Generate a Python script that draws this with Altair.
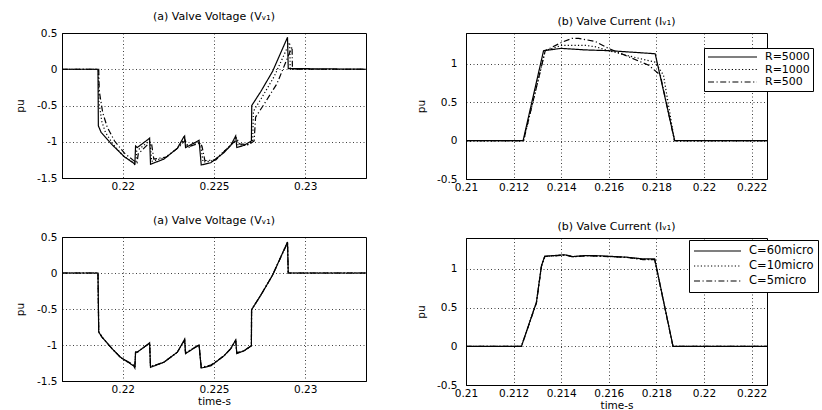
import altair as alt
import pandas as pd

FONT = "DejaVu Sans"

# ---------------- data ----------------
# (a) top-left: valve voltage, R variation
tl_r5000_t = [0.21667, 0.21864, 0.21866, 0.21881, 0.21937, 0.22010, 0.22062, 0.22066, 0.22070, 0.22079,
              0.22143, 0.22147, 0.22152, 0.22225, 0.22299, 0.22335, 0.22339, 0.22344, 0.22418, 0.22430,
              0.22482, 0.22555, 0.22592, 0.22619, 0.22625, 0.22665, 0.22705, 0.22707, 0.22756, 0.22821,
              0.22903, 0.22907, 0.23333]
tl_r5000_v = [0, 0, -0.78, -0.87, -1.03, -1.21, -1.30, -1.32, -1.06, -1.08,
              -0.96, -0.95, -1.31, -1.24, -1.09, -0.93, -0.92, -1.08, -0.98, -1.32,
              -1.29, -1.15, -1.05, -0.92, -1.08, -1.05, -0.99, -0.50, -0.31, -0.03,
              0.44, 0.01, 0]
tl_r1000_t = [0.21667, 0.21866, 0.21869, 0.21885, 0.21905, 0.21945, 0.22000, 0.22055, 0.22072, 0.22076,
              0.22090, 0.22145, 0.22150, 0.22158, 0.22230, 0.22300, 0.22338, 0.22345, 0.22360, 0.22420,
              0.22428, 0.22440, 0.22500, 0.22560, 0.22598, 0.22622, 0.22632, 0.22680, 0.22712, 0.22716,
              0.22760, 0.22830, 0.22915, 0.22918, 0.23333]
tl_r1000_v = [0, 0, -0.45, -0.72, -0.87, -1.03, -1.19, -1.28, -1.30, -1.13,
              -1.10, -0.99, -1.01, -1.27, -1.22, -1.09, -0.96, -1.02, -1.08, -1.00,
              -1.07, -1.28, -1.26, -1.12, -1.03, -0.95, -1.04, -1.05, -0.99, -0.58,
              -0.40, -0.10, 0.37, 0.0, 0]
tl_r500_t = [0.21667, 0.21868, 0.21871, 0.21890, 0.21915, 0.21955, 0.22010, 0.22060, 0.22078, 0.22085,
             0.22100, 0.22148, 0.22158, 0.22170, 0.22240, 0.22305, 0.22342, 0.22352, 0.22370, 0.22422,
             0.22434, 0.22450, 0.22510, 0.22565, 0.22602, 0.22628, 0.22640, 0.22690, 0.22720, 0.22728,
             0.22775, 0.22845, 0.22928, 0.22930, 0.23333]
tl_r500_v = [0, 0, -0.30, -0.60, -0.80, -0.99, -1.16, -1.26, -1.29, -1.16,
             -1.13, -1.01, -1.03, -1.24, -1.21, -1.08, -0.98, -1.04, -1.06, -1.02,
             -1.06, -1.26, -1.25, -1.11, -1.02, -0.97, -1.03, -1.04, -0.99, -0.66,
             -0.48, -0.20, 0.31, 0.0, 0]

# (b) top-right: valve current, R variation
tr_r5000_t = [0.21, 0.21240, 0.21326, 0.21400, 0.21500, 0.21600, 0.21700, 0.21795, 0.21877, 0.22265]
tr_r5000_v = [0, 0, 1.17, 1.20, 1.18, 1.17, 1.15, 1.13, 0, 0]
tr_r1000_t = [0.21, 0.21242, 0.21333, 0.21403, 0.21500, 0.21545, 0.21600, 0.21700, 0.21796, 0.21830, 0.21876, 0.22265]
tr_r1000_v = [0, 0, 1.17, 1.24, 1.24, 1.22, 1.17, 1.09, 1.02, 0.85, 0, 0]
tr_r500_t = [0.21, 0.21242, 0.21333, 0.21403, 0.21445, 0.21473, 0.21543, 0.21599, 0.21684, 0.21768, 0.21817, 0.21876, 0.22265]
tr_r500_v = [0, 0, 1.17, 1.28, 1.33, 1.33, 1.29, 1.20, 1.09, 0.98, 0.85, 0, 0]

# (a) bottom-left: valve voltage, C variation
bl_c60_t = [0.21667, 0.21864, 0.21868, 0.21886, 0.21941, 0.21987, 0.22060, 0.22066, 0.22070, 0.22079,
            0.22143, 0.22147, 0.22152, 0.22225, 0.22299, 0.22335, 0.22339, 0.22344, 0.22418, 0.22430,
            0.22482, 0.22555, 0.22592, 0.22619, 0.22625, 0.22665, 0.22705, 0.22706, 0.22756, 0.22821,
            0.22903, 0.22907, 0.23333]
bl_c60_v = [0, 0, -0.82, -0.89, -1.05, -1.17, -1.29, -1.32, -1.10, -1.10,
            -0.98, -0.97, -1.31, -1.24, -1.10, -0.94, -0.92, -1.12, -1.00, -1.32,
            -1.29, -1.15, -1.05, -0.93, -1.12, -1.08, -1.01, -0.51, -0.31, -0.03,
            0.43, 0, 0]
bl_c10_v = [0, 0, -0.82, -0.89, -1.05, -1.17, -1.29, -1.31, -1.10, -1.10,
            -0.98, -0.97, -1.30, -1.24, -1.10, -0.94, -0.92, -1.11, -1.00, -1.31,
            -1.29, -1.15, -1.05, -0.93, -1.11, -1.08, -1.01, -0.51, -0.31, -0.03,
            0.43, 0, 0]
bl_c5_v = [0, 0, -0.81, -0.89, -1.05, -1.17, -1.28, -1.31, -1.10, -1.10,
           -0.98, -0.97, -1.30, -1.24, -1.10, -0.95, -0.93, -1.11, -1.00, -1.31,
           -1.28, -1.15, -1.05, -0.94, -1.11, -1.08, -1.01, -0.51, -0.31, -0.03,
           0.42, 0, 0]

# (b) bottom-right: valve current, C variation
br_c60_t = [0.21, 0.21233, 0.21296, 0.21317, 0.21331, 0.21415, 0.21450, 0.21506, 0.21562, 0.21674, 0.21744, 0.21793, 0.21870, 0.22265]
br_c60_v = [0, 0, 0.57, 1.04, 1.165, 1.183, 1.16, 1.174, 1.17, 1.152, 1.13, 1.13, 0, 0]
br_c10_v = [0, 0, 0.57, 1.04, 1.16, 1.18, 1.16, 1.17, 1.165, 1.15, 1.125, 1.12, 0, 0]
br_c5_v = [0, 0, 0.56, 1.03, 1.16, 1.18, 1.155, 1.17, 1.165, 1.15, 1.12, 1.12, 0, 0]

r_names = ["R=5000", "R=1000", "R=500"]
c_names = ["C=60micro", "C=10micro", "C=5micro"]
dashes = [[1, 0], [1.2, 2.2], [6, 2.5, 1.2, 2.5]]

volt_xticks = [0.22, 0.225, 0.23]
curr_xticks = [0.21, 0.212, 0.214, 0.216, 0.218, 0.22, 0.222]
volt_yticks = [-1.5, -1, -0.5, 0, 0.5]
curr_yticks = [-0.5, 0, 0.5, 1]


def long_df(series):
    rows = []
    for name, ts, vs in series:
        for i, (t, v) in enumerate(zip(ts, vs)):
            rows.append({"t": t, "v": v, "series": name, "i": i})
    return pd.DataFrame(rows)


def panel(df, title, names, xdom, xticks, ydom, yticks, w, h, xtitle, legend, ylabpad, ytitlepad):
    return alt.Chart(df).mark_line(color="black", strokeWidth=1.2, clip=True).encode(
        x=alt.X("t:Q", scale=alt.Scale(domain=xdom, nice=False, zero=False),
                axis=alt.Axis(values=xticks, format=".3~f", title=xtitle, labelFlush=False,
                              labelOverlap=False, labelPadding=3, titlePadding=2)),
        y=alt.Y("v:Q", scale=alt.Scale(domain=ydom, nice=False, zero=False),
                axis=alt.Axis(values=yticks, format="~g", title="pu", labelFlush=False,
                              labelOverlap=False,
                              labelExpr="replace(datum.label, '\u2212', '-')",
                              labelPadding=ylabpad, titlePadding=ytitlepad)),
        strokeDash=alt.StrokeDash("series:N", scale=alt.Scale(domain=names, range=dashes),
                                  sort=names, legend=legend),
        order="i:Q",
    ).properties(width=w, height=h,
                 title=alt.Title(title, font=FONT, fontSize=11, fontWeight="normal", offset=6))


def mk_legend(x, y, clip_h, pad, size, row_pad, font_size, tail):
    return alt.Legend(orient="none", legendX=x, legendY=y, title=None,
                      strokeColor="black", fillColor="white", padding=pad,
                      symbolType="stroke", symbolSize=size, symbolStrokeWidth=1.2,
                      symbolStrokeColor="black", clipHeight=clip_h,
                      rowPadding=row_pad, labelFont=FONT, labelFontSize=font_size,
                      labelOffset=7, labelAlign="left", cornerRadius=0,
                      labelExpr="datum.label + '" + "\u00a0" * tail + "'")


tl = panel(long_df([(r_names[2], tl_r500_t, tl_r500_v), (r_names[1], tl_r1000_t, tl_r1000_v),
                    (r_names[0], tl_r5000_t, tl_r5000_v)]),
           "(a) Valve Voltage (V\u1d65\u2081)", r_names, [0.216667, 0.233333], volt_xticks,
           [-1.5, 0.5], volt_yticks, 304, 145, None, None, 5, 11)
bl = panel(long_df([(c_names[2], bl_c60_t, bl_c5_v), (c_names[1], bl_c60_t, bl_c10_v),
                    (c_names[0], bl_c60_t, bl_c60_v)]),
           "(a) Valve Voltage (V\u1d65\u2081)", c_names, [0.216667, 0.233333], volt_xticks,
           [-1.5, 0.5], volt_yticks, 304, 144, "time-s", None, 5, 11)
tr = panel(long_df([(r_names[2], tr_r500_t, tr_r500_v), (r_names[1], tr_r1000_t, tr_r1000_v),
                    (r_names[0], tr_r5000_t, tr_r5000_v)]),
           "(b) Valve Current (I\u1d65\u2081)", r_names, [0.21, 0.22265], curr_xticks,
           [-0.5, 1.4], curr_yticks, 301, 146, None,
           mk_legend(238, 15, 12, 3, 2401, 0.5, 11, 3), 9, 10)
br = panel(long_df([(c_names[2], br_c60_t, br_c5_v), (c_names[1], br_c60_t, br_c10_v),
                    (c_names[0], br_c60_t, br_c60_v)]),
           "(b) Valve Current (I\u1d65\u2081)", c_names, [0.21, 0.22265], curr_xticks,
           [-0.5, 1.4], curr_yticks, 301, 147, "time-s",
           mk_legend(223, 2, 14, 4, 2209, 1, 11.5, 1), 9, 10)

left = alt.vconcat(tl, bl, spacing=22).resolve_scale(strokeDash="independent")
right = alt.vconcat(tr, br, spacing=27).resolve_scale(strokeDash="independent")

chart = alt.hconcat(left, right, spacing=49).resolve_scale(strokeDash="independent").properties(
    padding={"left": 15, "top": 10, "right": 0, "bottom": 0},
    background="white",
).configure_view(stroke="black", strokeWidth=1).configure_axis(
    labelFont=FONT, labelFontSize=10.5, labelColor="black",
    titleFont=FONT, titleFontSize=10.5, titleFontWeight="normal", titleColor="black",
    domainColor="black", domainWidth=1, ticks=False,
    gridColor="black", gridDash=[1, 2.5], gridOpacity=0.75, gridWidth=1,
)

chart.save("out.html", embed_options={"renderer": "svg", "actions": False})
